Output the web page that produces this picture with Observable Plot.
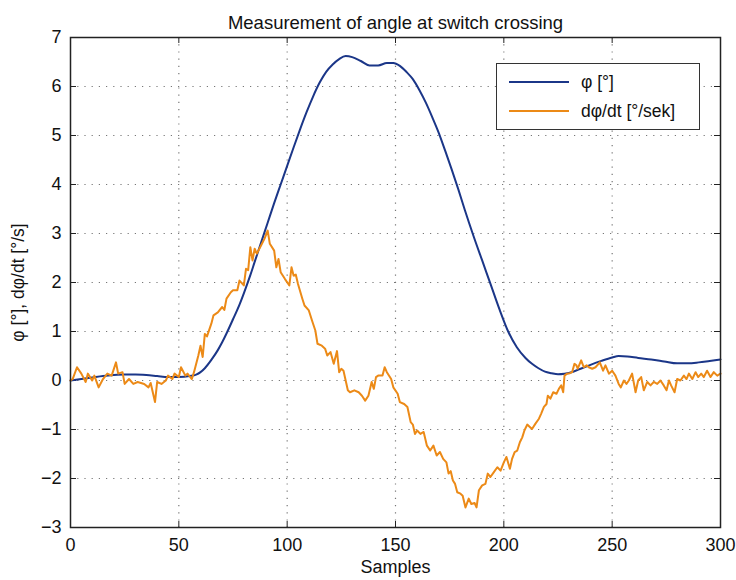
<!DOCTYPE html>
<html>
<head>
<meta charset="utf-8">
<script src="https://cdn.jsdelivr.net/npm/d3@7"></script>
<script src="https://cdn.jsdelivr.net/npm/@observablehq/plot@0.6"></script>
<style>
  body { margin: 0; background: white; }
  #wrap { position: relative; width: 736px; height: 580px; font-family: "Liberation Sans", Arial, sans-serif; }
  #legend { position: absolute; left: 496px; top: 63px; width: 202px; height: 65px; border: 1.5px solid #333; background: white; font-size: 17.5px; color: #111; }
  .row { position: absolute; left: 12px; height: 20px; display: flex; align-items: center; }
  .sw { width: 60px; height: 0; border-top: 2px solid; margin-right: 12px; }
</style>
</head>
<body>
<div id="wrap"></div>
<script>
const title = "Measurement of angle at switch crossing";
const xLabel = "Samples";
const yLabel = "φ [°], dφ/dt [°/s]";
const seriesNames = ["φ [°]", "dφ/dt [°/sek]"];
const seriesColors = ["#1b3688", "#ec8a17"];
const xTicks = [0, 50, 100, 150, 200, 250, 300];
const yTicks = [-3, -2, -1, 0, 1, 2, 3, 4, 5, 6, 7];

// phi (angle) samples
const phiX = [0,5,10,15,20,25,30,35,40,45,50,55,58,60,62,65,68,70,72,75,78,80,83,85,88,91,94,97,100,103,106,109,112,115,118,121,124,127,130,134,138,142,146,149,152,155,158,161,164,167,170,173,176,179,182,186,190,194,198,202,206,210,213,216,219,222,225,228,232,236,240,245,250,253,257,262,268,274,280,285,290,295,300];
const phiY = [0,0.03,0.06,0.09,0.11,0.12,0.12,0.11,0.09,0.07,0.07,0.09,0.12,0.17,0.25,0.42,0.62,0.78,0.96,1.25,1.55,1.78,2.15,2.42,2.82,3.22,3.62,4.0,4.38,4.76,5.13,5.48,5.8,6.08,6.3,6.45,6.56,6.62,6.6,6.52,6.43,6.43,6.48,6.48,6.42,6.3,6.15,5.93,5.67,5.37,5.05,4.68,4.3,3.9,3.48,2.95,2.45,1.95,1.45,1.0,0.68,0.46,0.34,0.25,0.18,0.15,0.13,0.14,0.18,0.25,0.32,0.4,0.47,0.5,0.49,0.46,0.43,0.39,0.35,0.35,0.37,0.4,0.43];

// dphi/dt samples
const dphiX = [0,1,3,5,7,8,10,11,13,15,17,19,21,22,24,25,27,29,31,34,36,37,39,40,42,44,45,47,48,50,51,53,54,56,57,59,60,61,62,63,65,66,68,70,71,72,74,75,77,78,80,81,82,83,84,85,86,88,89.5,91,92,94,95,96,97,99,101,102,103,104,105,107,108,110,111.5,113,114,116,117.5,118.5,120,121.5,123,124,125,126,128,129,131,133,134.5,136,137.5,139,140,141,142,144,145,146,148,149,151,152,154,155.5,157,158,159,160,161.5,163,164.5,166,167.5,169,170.5,172,173.5,174.5,175.5,176.5,177.5,178.5,180,181,182.3,183.8,185,186.5,187.4,188.5,190,191.5,192.6,193.8,195.4,197,198.5,200,201.2,202.8,203.8,205,206.2,207.4,208.5,209.5,210.8,212,213,214.6,216.2,217.2,218.5,219.7,220.3,221.5,222.8,224.3,225.4,226.5,227.4,228,229.2,230.5,231.5,232.6,233.5,234.1,235.7,236.9,238.2,239.2,240.8,242.3,244.3,245.8,246.9,248.5,250,251.5,253,254,255.4,256.6,257.7,259.2,260.8,262,263.4,264.6,266.2,267.7,269.2,270.8,272.3,273.8,275.1,276.2,277.2,278.8,280,281.5,283.1,284.3,285.4,287,288.5,289.7,291.1,292.3,293.8,295.4,296.9,298.5,300];
const dphiY = [0,0.03,0.27,0.14,-0.03,0.14,0,0.1,-0.14,0.03,0.14,0.1,0.37,0.14,0.17,-0.07,0.03,-0.07,-0.03,-0.07,-0.14,-0.05,-0.44,-0.03,-0.07,0,0.1,0.03,0.14,0.07,0.27,0.1,0.14,0.03,0.17,0.51,0.71,0.48,0.95,0.9,1.16,1.33,1.39,1.5,1.44,1.67,1.8,1.84,1.84,2.04,1.94,2.28,2.25,2.72,2.45,2.69,2.59,2.76,2.89,3.06,2.79,2.65,2.31,2.48,2.21,2.07,1.94,2.31,2.14,2.16,1.97,1.67,1.53,1.43,1.22,1.02,0.75,0.71,0.65,0.51,0.58,0.34,0.6,0.17,0.24,0.2,-0.2,-0.24,-0.2,-0.24,-0.31,-0.41,-0.31,-0.03,-0.17,0.07,0.1,0.1,0.27,0.17,0.03,-0.14,-0.27,-0.44,-0.48,-0.54,-0.85,-0.9,-1.09,-1.02,-1.09,-1.05,-1.33,-1.43,-1.33,-1.53,-1.46,-1.6,-1.67,-1.9,-1.85,-2.04,-2.11,-2.28,-2.31,-2.35,-2.59,-2.41,-2.52,-2.5,-2.59,-2.24,-2.14,-2.11,-1.9,-1.97,-1.87,-1.77,-1.84,-1.67,-1.56,-1.8,-1.6,-1.46,-1.43,-1.26,-1.16,-1.02,-0.9,-0.95,-0.99,-0.88,-0.78,-0.68,-0.54,-0.48,-0.31,-0.37,-0.24,-0.27,-0.17,-0.1,-0.24,0.1,0.14,0.15,0.17,0.34,0.31,0.24,0.41,0.27,0.31,0.27,0.24,0.27,0.37,0.2,0.31,0.14,0.2,0.1,-0.07,-0.14,0,-0.07,0,0.14,-0.24,0,0.07,-0.2,-0.03,-0.1,-0.03,-0.07,0,-0.1,-0.2,0,-0.1,-0.24,0.03,0,0.1,0.03,0.14,0.03,0.17,0.07,0.14,0.07,0.2,0.07,0.17,0.1,0.14];

const phi = phiX.map((x, i) => ({x, y: phiY[i]}));
const dphi = dphiX.map((x, i) => ({x, y: dphiY[i]}));

const xMin = xTicks[0], xMax = xTicks[xTicks.length - 1];
const yMin = yTicks[0], yMax = yTicks[yTicks.length - 1];
const tickLenX = (xMax - xMin) * 6 / 650;
const tickLenY = (yMax - yMin) * 6 / 490;

const grid = {stroke: "#777", strokeOpacity: 1, strokeDasharray: "1.2,6", strokeWidth: 1.2};

const chart = Plot.plot({
  width: 736,
  height: 580,
  marginLeft: 70,
  marginRight: 16,
  marginTop: 37,
  marginBottom: 53,
  style: {fontFamily: "'Liberation Sans', Arial, sans-serif", fontSize: "18px", color: "#111", background: "white"},
  x: {domain: [xMin, xMax]},
  y: {domain: [yMin, yMax]},
  marks: [
    Plot.gridX(xTicks.slice(1, -1), grid),
    Plot.gridY(yTicks.slice(1, -1), grid),
    Plot.ruleX(xTicks, {y1: yMin, y2: yMin + tickLenY, stroke: "#222"}),
    Plot.ruleX(xTicks, {y1: yMax - tickLenY, y2: yMax, stroke: "#222"}),
    Plot.ruleY(yTicks, {x1: xMin, x2: xMin + tickLenX, stroke: "#222"}),
    Plot.ruleY(yTicks, {x1: xMax - tickLenX, x2: xMax, stroke: "#222"}),
    Plot.line(phi, {x: "x", y: "y", stroke: seriesColors[0], strokeWidth: 2, curve: "monotone-x"}),
    Plot.line(dphi, {x: "x", y: "y", stroke: seriesColors[1], strokeWidth: 2}),
    Plot.frame({stroke: "#222", strokeWidth: 1.5}),
    Plot.axisX({ticks: xTicks, tickSize: 0, tickPadding: 11, label: null, fontSize: 18}),
    Plot.axisY({ticks: yTicks, tickSize: 0, tickPadding: 9, label: null, fontSize: 18}),
    Plot.text([xLabel], {frameAnchor: "bottom", dy: 45, fontSize: 18, fill: "#111"}),
    Plot.text([yLabel], {frameAnchor: "left", textAnchor: "middle", dx: -52, rotate: -90, fontSize: 17.5, fill: "#111"}),
    Plot.text([title], {frameAnchor: "top", dy: -22, fontSize: 18.5, fill: "#111"})
  ]
});

const wrap = document.getElementById("wrap");
wrap.appendChild(chart);

const legend = document.createElement("div");
legend.id = "legend";
seriesNames.forEach((name, i) => {
  const row = document.createElement("div");
  row.className = "row";
  row.style.top = (8 + i * 29) + "px";
  const sw = document.createElement("span");
  sw.className = "sw";
  sw.style.borderTopColor = seriesColors[i];
  const label = document.createElement("span");
  label.textContent = name;
  row.appendChild(sw);
  row.appendChild(label);
  legend.appendChild(row);
});
wrap.appendChild(legend);
</script>
</body>
</html>
